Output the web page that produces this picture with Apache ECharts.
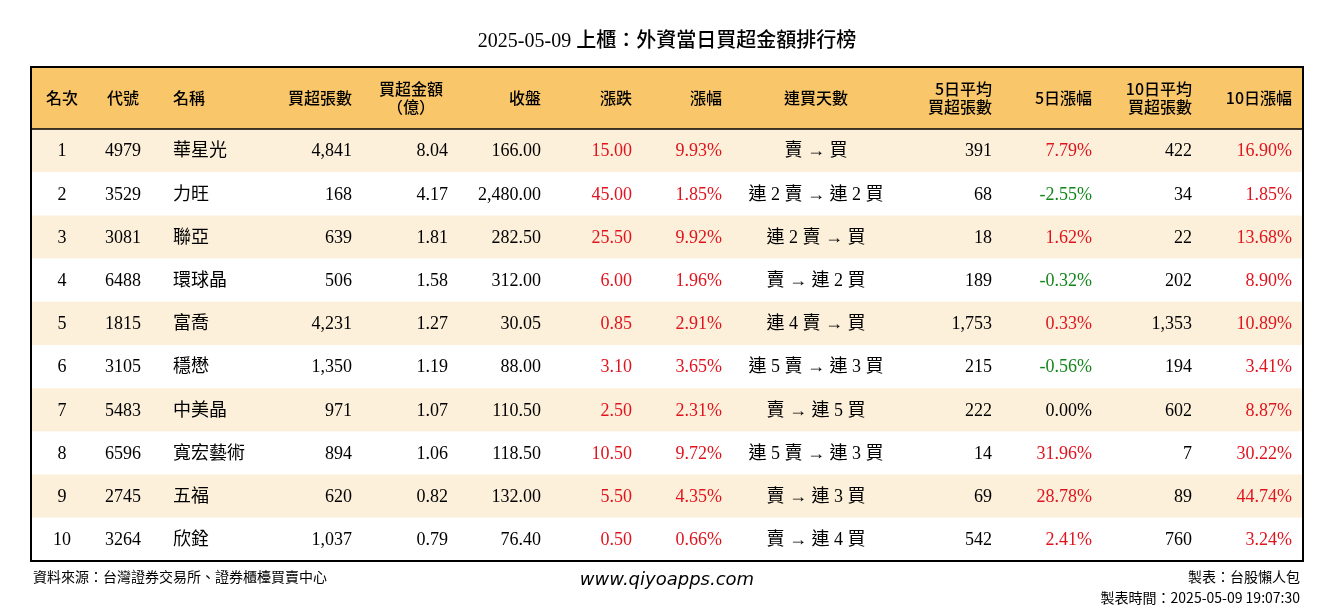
<!DOCTYPE html>
<html>
<head>
<meta charset="utf-8">
<script src="https://cdn.jsdelivr.net/npm/echarts@6/dist/echarts.min.js"></script>
<style>html,body{margin:0;padding:0;background:#fff}#main{width:1334px;height:612px}</style>
</head>
<body>
<div id="main"></div>
<script>
var ranks = [1, 2, 3, 4, 5, 6, 7, 8, 9, 10];
var codes = ['4979', '3529', '3081', '6488', '1815', '3105', '5483', '6596', '2745', '3264'];
var names = ['華星光', '力旺', '聯亞', '環球晶', '富喬', '穩懋', '中美晶', '寬宏藝術', '五福', '欣銓'];
var netLots = [4841, 168, 639, 506, 4231, 1350, 971, 894, 620, 1037];
var netAmt = [8.04, 4.17, 1.81, 1.58, 1.27, 1.19, 1.07, 1.06, 0.82, 0.79];
var closes = [166.00, 2480.00, 282.50, 312.00, 30.05, 88.00, 110.50, 118.50, 132.00, 76.40];
var changes = [15.00, 45.00, 25.50, 6.00, 0.85, 3.10, 2.50, 10.50, 5.50, 0.50];
var changePct = [9.93, 1.85, 9.92, 1.96, 2.91, 3.65, 2.31, 9.72, 4.35, 0.66];
var streaks = ['賣 → 買', '連 2 賣 → 連 2 買', '連 2 賣 → 買', '賣 → 連 2 買', '連 4 賣 → 買',
  '連 5 賣 → 連 3 買', '賣 → 連 5 買', '連 5 賣 → 連 3 買', '賣 → 連 3 買', '賣 → 連 4 買'];
var avg5Lots = [391, 68, 18, 189, 1753, 215, 222, 14, 69, 542];
var pct5 = [7.79, -2.55, 1.62, -0.32, 0.33, -0.56, 0.00, 31.96, 28.78, 2.41];
var avg10Lots = [422, 34, 22, 202, 1353, 194, 602, 7, 89, 760];
var pct10 = [16.90, 1.85, 13.68, 8.90, 10.89, 3.41, 8.87, 30.22, 44.74, 3.24];
var headers = ['名次', '代號', '名稱', '買超張數', '買超金額\n（億）', '收盤', '漲跌', '漲幅', '連買天數',
  '5日平均\n買超張數', '5日漲幅', '10日平均\n買超張數', '10日漲幅'];

// column anchors (x in page px) and alignment
var colX = [62, 123, 173, 352, 448, 541, 632, 722, 816, 992, 1092, 1192, 1292];
var colAlign = ['center', 'center', 'left', 'right', 'right', 'right', 'right', 'right', 'center', 'right', 'right', 'right', 'right'];
var headX = [62, 123, 173, 352, 411, 541, 632, 722, 816, 992, 1092, 1192, 1292];
var headAlign = ['center', 'center', 'left', 'right', 'center', 'right', 'right', 'right', 'center', 'right', 'right', 'right', 'right'];

var FONT = '"Liberation Serif", "Noto Sans CJK TC", serif';
var CJK = '"Noto Sans CJK TC", sans-serif';
var RED = '#e0141e', GREEN = '#13861a';

function fmtInt(v) { return v.toLocaleString('en-US'); }
function fmt2(v) { return v.toLocaleString('en-US', {minimumFractionDigits: 2, maximumFractionDigits: 2}); }
function pctColor(v) { return v > 0 ? RED : (v < 0 ? GREEN : '#000'); }

var chart = echarts.init(document.getElementById('main'));

var headerGraphics = headers.map(function (h, i) {
  return {
    type: 'text', silent: true, z: 5,
    x: headX[i], y: 98,
    style: {text: h, font: '500 16px ' + CJK, fill: '#000', align: headAlign[i], verticalAlign: 'middle', lineHeight: 18}
  };
});

chart.setOption({
  animation: false,
  grid: {left: 31, right: 31, top: 129, bottom: 51},
  xAxis: {type: 'value', min: 31, max: 1303, show: false},
  yAxis: {type: 'category', data: ranks, inverse: true, show: false},
  graphic: [
    {type: 'text', x: 667, y: 42, style: {text: '2025-05-09 上櫃：外資當日買超金額排行榜', font: '500 20px ' + FONT, fill: '#000', align: 'center', verticalAlign: 'middle'}},
    {type: 'rect', shape: {x: 31, y: 67, width: 1272, height: 62}, style: {fill: '#f9c76a'}, z: 1},
    {type: 'line', shape: {x1: 31, y1: 129, x2: 1303, y2: 129}, style: {stroke: '#000', lineWidth: 1.5}, z: 10},
    {type: 'rect', shape: {x: 31, y: 67, width: 1272, height: 494}, style: {fill: null, stroke: '#000', lineWidth: 2}, z: 10},
    {type: 'text', x: 33, y: 577, style: {text: '資料來源：台灣證券交易所、證券櫃檯買賣中心', font: '14px ' + CJK, fill: '#000', verticalAlign: 'middle'}},
    {type: 'text', x: 667, y: 580, style: {text: 'www.qiyoapps.com', font: 'italic 18px "DejaVu Sans", sans-serif', fill: '#000', align: 'center', verticalAlign: 'middle'}},
    {type: 'text', x: 1300, y: 577, style: {text: '製表：台股懶人包', font: '14px ' + CJK, fill: '#000', align: 'right', verticalAlign: 'middle'}},
    {type: 'text', x: 1300, y: 598, style: {text: '製表時間：2025-05-09 19:07:30', font: '14px ' + CJK, fill: '#000', align: 'right', verticalAlign: 'middle'}}
  ].concat(headerGraphics),
  series: [{
    type: 'custom',
    data: ranks.map(function (r, i) { return [0, i]; }),
    encode: {x: 0, y: 1},
    renderItem: function (params, api) {
      var i = params.dataIndex;
      var c = api.coord([31, i]);
      var h = api.size([0, 1])[1];
      var right = api.coord([1303, i])[0];
      var cells = [
        [String(ranks[i]), '#000'], [codes[i], '#000'], [names[i], '#000'],
        [fmtInt(netLots[i]), '#000'], [fmt2(netAmt[i]), '#000'], [fmt2(closes[i]), '#000'],
        [fmt2(changes[i]), RED], [fmt2(changePct[i]) + '%', RED], [streaks[i], '#000'],
        [fmtInt(avg5Lots[i]), '#000'], [fmt2(pct5[i]) + '%', pctColor(pct5[i])],
        [fmtInt(avg10Lots[i]), '#000'], [fmt2(pct10[i]) + '%', pctColor(pct10[i])]
      ];
      var children = [{
        type: 'rect',
        shape: {x: c[0], y: c[1] - h / 2, width: right - c[0], height: h},
        style: {fill: i % 2 === 0 ? '#fdf0da' : '#ffffff'}
      }];
      cells.forEach(function (cell, k) {
        children.push({
          type: 'text',
          x: api.coord([colX[k], i])[0], y: c[1] + 1,
          style: {text: cell[0], font: '18px ' + FONT, fill: cell[1], align: colAlign[k], verticalAlign: 'middle'}
        });
      });
      return {type: 'group', children: children};
    }
  }]
});
</script>
</body>
</html>
